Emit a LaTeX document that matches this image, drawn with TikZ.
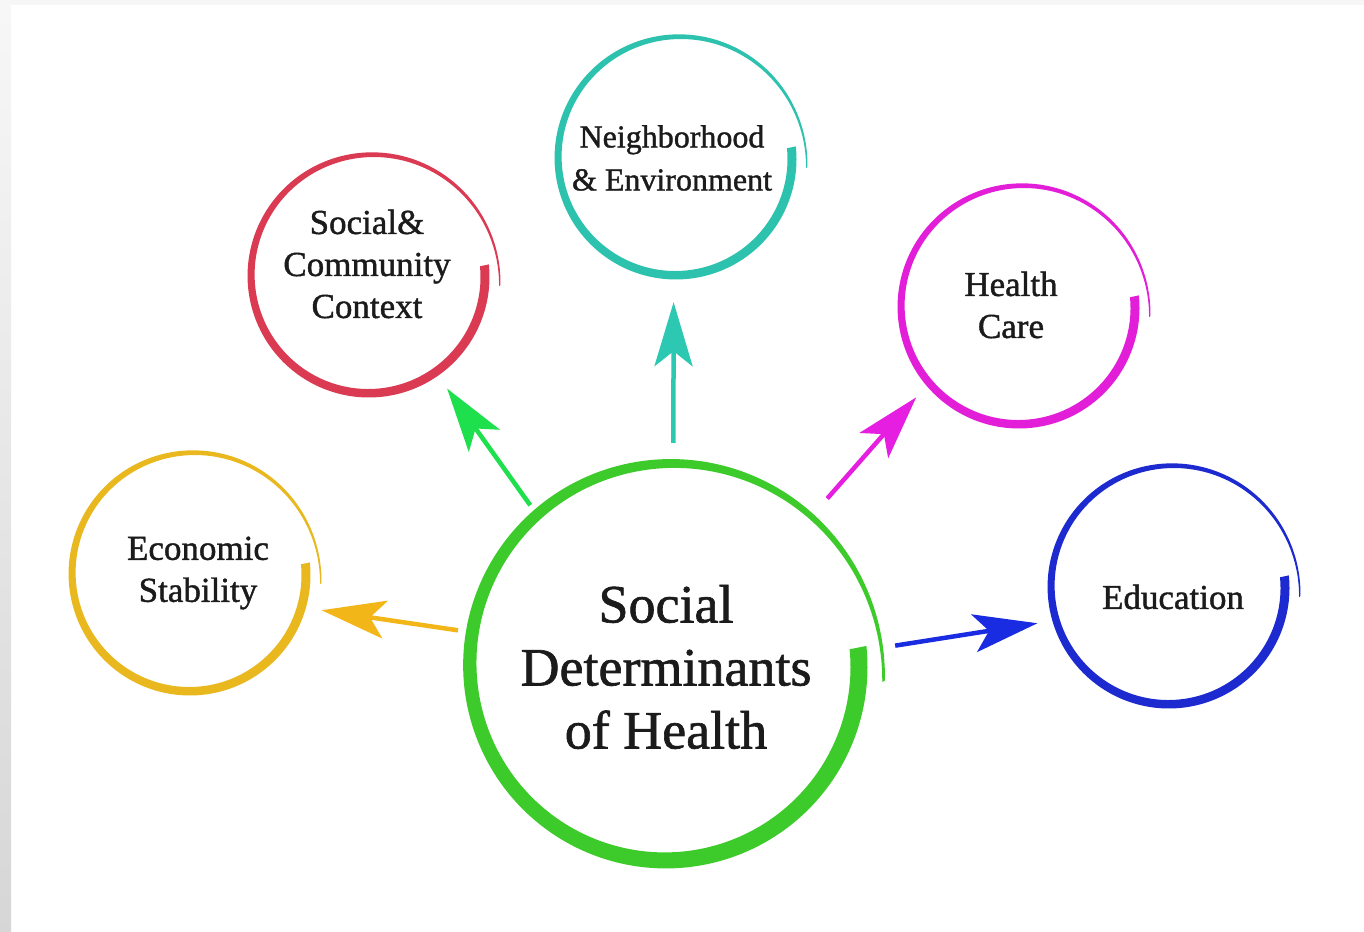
\documentclass[tikz,border=0pt]{standalone}
\usepackage{fontspec}
\setmainfont{Liberation Serif}
\newfontfamily\lblfont[FakeBold=1.2]{Liberation Serif}
\usetikzlibrary{arrows.meta}

\definecolor{txtgrey}{HTML}{1B1B1B}
\definecolor{hubgreen}{HTML}{3CCB2A}
\definecolor{ecoyellow}{HTML}{E8B81E}
\definecolor{socred}{HTML}{DA3A52}
\definecolor{neiteal}{HTML}{2CC2AE}
\definecolor{hcmagenta}{HTML}{E21ED8}
\definecolor{edublue}{HTML}{1C2AD0}
\definecolor{ecoarrow}{HTML}{F2B618}
\definecolor{socarrow}{HTML}{1EDF4C}
\definecolor{neiarrow}{HTML}{2CC8B2}
\definecolor{hcarrow}{HTML}{E61EE2}
\definecolor{eduarrow}{HTML}{1A2CE2}

% open ring: thick start, thin tail that runs past it
\newcommand\drawswirl[4]{%
  \fill[#2,shift={(#1)}]
    plot[domain=0:1,samples=120,smooth] ({6-370*\x}:{#3*(1+0.13*\x^3)+#4*(1-0.85*\x^2)/2})
    -- plot[domain=1:0,samples=120,smooth] ({6-370*\x}:{#3*(1+0.13*\x^3)-#4*(1-0.85*\x^2)/2})
    -- cycle;}

\begin{document}
\begin{tikzpicture}[x=1pt,y=1pt,
    ring/.style={circle,minimum size=272pt,inner sep=0pt},
    hub/.style={circle,minimum size=422pt,inner sep=0pt,align=center,
      font=\lblfont\fontsize{54}{63}\selectfont,text=txtgrey},
    lbl/.style={align=center,font=\lblfont\fontsize{35}{42}\selectfont,text=txtgrey},
    arr/.style={draw=#1,line width=4.5pt,-{Stealth[length=64pt,width=38pt,inset=15pt]}}]

  \useasboundingbox (0,0) rectangle (1364,931);
  \fill[white] (0,0) rectangle (1364,931);
  \shade[top color=gray!6,bottom color=gray!32] (0,0) rectangle (11,931);
  \fill[gray!7] (11,926) rectangle (1364,931);

  \node[hub] (main) at (666,264) {Social\\Determinants\\of Health};
  \node[ring] (econ) at (190,356) {};
  \node[ring] (social) at (369,654) {};
  \node[ring] (neigh) at (676,772) {};
  \node[ring] (health) at (1019,623) {};
  \node[ring] (edu) at (1169,343) {};

  \node[lbl] (econ-t) at ([shift={(8,2)}]econ) {Economic\\Stability};
  \node[lbl] (social-t) at ([shift={(-2,13)}]social) {Social\&\\Community\\Context};
  \node[lbl,font=\lblfont\fontsize{32}{43}\selectfont] (neigh-t) at ([shift={(-4,1)}]neigh) {Neighborhood\\\& Environment};
  \node[lbl] (health-t) at ([shift={(-8,3)}]health) {Health\\Care};
  \node[lbl] (edu-t) at ([shift={(4,-9)}]edu) {Education};

  \drawswirl{main}{hubgreen}{193}{17}
  \drawswirl{econ}{ecoyellow}{116}{9}
  \drawswirl{social}{socred}{116}{9}
  \drawswirl{neigh}{neiteal}{116}{9}
  \drawswirl{health}{hcmagenta}{116}{9}
  \drawswirl{edu}{edublue}{116}{9}

  \path
  (main.170) edge[arr=ecoarrow] (econ.-15)
  (main.130) edge[arr=socarrow] (social.-55)
  (main.88) edge[arr=neiarrow,shorten <=13pt,shorten >=7pt] (neigh.-91)
  (main.46) edge[arr=hcarrow,shorten <=22pt] (health.-139)
  (main.5) edge[arr=eduarrow,shorten <=19pt] (edu.-165);
\end{tikzpicture}
\end{document}
